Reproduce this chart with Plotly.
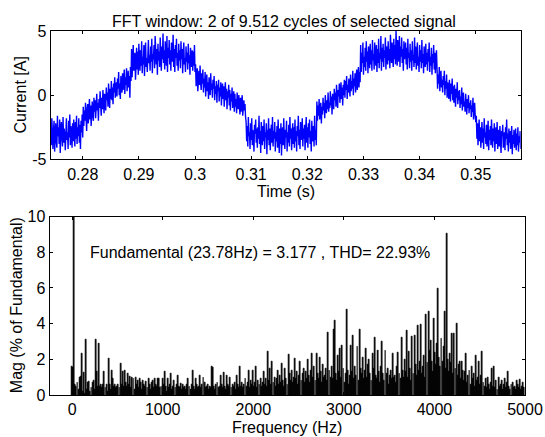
import plotly.graph_objects as go

# ---------------- data ----------------
t_start = 0.2743          # s, first sample of the FFT window
t_step = 0.0001           # s, sample spacing (10 kHz)
current = [
    # 0.2743 - 0.2800  lower plateau
    -2.4, -3.9, -1.8, -3.3, -4.2, -2.7, -2.0, -4.4, -3.0, -2.2,
    -3.6, -4.1, -1.6, -3.2, -2.5, -3.8, -1.9, -4.5, -2.8, -2.1,
    -3.4, -4.0, -1.7, -3.7, -2.6, -3.1, -4.3, -2.3, -1.8, -3.5,
    -2.9, -4.2, -2.0, -3.3, -1.5, -3.9, -2.4, -3.0, -4.1, -2.2,
    -3.6, -1.9, -2.7, -4.0, -2.1, -3.4, -1.6, -3.8, -2.5, -3.2,
    -1.8, -3.7, -2.3, -4.2, -2.0, -2.9, -1.5, -3.3,
    # 0.2801 - 0.2886  rising
    -0.9, -2.4, -1.2, -2.0, -0.6, -1.7, -2.8, -1.0, -0.7, -2.2,
    -1.5, -0.3, -1.9, -0.8, -2.4, -1.2, -0.5, -1.6, -2.0, -0.2,
    -1.3, -0.4, -1.8, -0.9, 0.1, -1.2, -0.6, -2.0, -0.3, -1.0,
    0.3, -0.8, -1.6, -0.2, -1.1, 0.4, -0.5, -1.4, 0.1, -0.7,
    -1.2, 0.6, -0.4, 0.2, -0.9, 0.9, -0.1, -1.0, 0.5, -0.3,
    1.1, -0.4, 0.6, -0.7, 0.9, 0.2, 1.4, -0.2, 0.4, 1.0,
    -0.1, 1.3, 0.5, 1.8, 0.0, 0.9, -0.3, 1.5, 0.7, 0.2,
    1.7, 0.4, 1.2, 2.0, 0.1, 1.4, 0.8, 2.1, 0.3, 1.0,
    1.9, 0.6, 1.5, -0.2, 2.2, 1.1,
    # 0.2887 - 0.3000  upper plateau
    3.6, 1.4, 2.8, 3.9, 1.9, 2.5, 3.3, 1.2, 2.9, 3.7,
    2.0, 3.4, 1.6, 4.0, 2.7, 1.9, 3.5, 2.3, 4.2, 1.7,
    3.0, 2.4, 3.9, 1.5, 3.3, 4.1, 2.2, 2.9, 1.8, 3.6,
    4.3, 2.5, 3.1, 1.9, 3.8, 2.6, 4.4, 1.7, 3.2, 2.8,
    3.9, 2.1, 4.6, 3.0, 2.4, 3.6, 1.6, 4.0, 2.7, 3.4,
    2.2, 4.5, 3.3, 1.9, 3.8, 2.8, 4.8, 2.5, 3.5, 2.0,
    4.2, 3.0, 2.3, 4.6, 1.8, 3.7, 2.9, 4.3, 2.4, 3.5,
    1.9, 4.1, 3.2, 2.6, 4.7, 2.2, 3.6, 1.8, 3.9, 2.9,
    4.4, 2.3, 3.3, 1.9, 4.0, 2.7, 3.5, 2.1, 4.2, 2.8,
    3.6, 1.7, 3.2, 4.1, 2.4, 2.9, 1.8, 3.8, 2.6, 3.3,
    2.0, 4.0, 2.5, 3.1, 1.6, 3.7, 2.8, 2.2, 3.5, 1.9,
    3.4, 2.3, 3.9, 1.8,
    # 0.3001 - 0.3090  falling
    2.4, 0.7, 1.6, 2.1, 0.3, 1.2, 1.9, 0.8, 2.3, 1.0,
    0.4, 1.7, 0.9, 2.0, 0.2, 1.3, 0.6, 1.8, -0.1, 1.1,
    1.6, 0.3, 1.0, -0.3, 1.4, 0.6, 0.0, 1.7, 0.4, 0.9,
    -0.2, 1.2, 0.5, 1.5, -0.4, 0.7, 0.1, 1.1, -0.6, 0.8,
    0.3, 1.2, -0.5, 0.6, -0.1, 1.0, -0.8, 0.4, 0.9, -0.3,
    0.7, -0.9, 0.2, 1.0, -0.4, 0.5, -1.1, 0.3, -0.2, 0.8,
    -0.8, 0.4, -1.2, 0.1, -0.5, 0.6, -1.0, -0.2, 0.3, -1.3,
    0.1, -0.9, -0.3, -1.4, 0.2, -0.7, -1.1, 0.0, -0.5, -1.5,
    -0.2, -1.3, -0.6, 0.0, -1.6, -0.9, -0.4, -1.2, -0.7, -1.7,
    # 0.3091 - 0.3216  lower plateau
    -2.1, -3.6, -2.4, -4.0, -1.7, -3.2, -2.9, -4.2, -2.2, -3.5,
    -1.8, -3.9, -2.7, -3.3, -4.4, -2.3, -3.0, -1.9, -3.7, -2.6,
    -4.1, -2.5, -3.4, -1.6, -3.8, -2.8, -4.5, -2.1, -3.1, -3.9,
    -2.4, -3.6, -1.9, -4.2, -2.9, -3.3, -2.2, -4.6, -2.7, -3.5,
    -1.8, -3.9, -2.6, -4.3, -3.0, -2.3, -3.7, -1.7, -4.0, -2.8,
    -3.4, -2.1, -4.4, -2.9, -3.6, -2.4, -4.1, -1.9, -3.2, -4.5,
    -2.6, -3.8, -2.2, -4.7, -3.1, -2.5, -3.9, -1.8, -3.5, -4.2,
    -2.7, -3.3, -2.0, -4.4, -2.9, -3.7, -2.3, -4.0, -1.7, -3.4,
    -2.6, -4.3, -3.0, -2.2, -3.8, -2.5, -4.1, -1.9, -3.6, -2.8,
    -4.4, -2.4, -3.2, -1.6, -3.9, -2.7, -4.2, -2.1, -3.5, -3.0,
    -1.8, -4.0, -2.6, -3.4, -2.3, -4.3, -2.9, -1.7, -3.7, -2.5,
    -4.1, -2.2, -3.3, -1.9, -3.8, -2.8, -4.4, -2.0, -3.1, -3.6,
    -2.4, -4.0, -1.6, -3.5, -2.7, -3.9,
    # 0.3217 - 0.3294  rising
    -0.5, -2.0, -0.8, -1.6, -0.3, -1.9, -1.1, -0.6, -2.2, -0.9,
    -1.5, -0.2, -1.2, -0.6, -1.8, 0.0, -0.9, -1.4, -0.4, -1.1,
    0.2, -1.3, -0.6, -1.0, 0.3, -0.8, -0.1, -1.5, 0.1, -0.7,
    -1.1, 0.5, -0.4, 0.2, -0.9, 0.8, -0.3, -1.0, 0.4, -0.1,
    0.9, -0.6, 0.3, 1.0, -0.3, 0.6, -0.8, 0.8, 0.0, 1.2,
    -0.2, 1.1, 0.4, 1.5, -0.3, 0.8, 0.2, 1.3, 0.6, -0.1,
    1.6, 0.3, 1.1, 0.5, 1.9, 0.0, 1.3, 0.7, 1.7, 0.2,
    1.5, 2.0, 0.4, 1.2, 2.2, 0.6, 1.8, 1.0,
    # 0.3295 - 0.3430  upper plateau
    3.9, 1.8, 3.3, 2.5, 4.1, 1.6, 3.0, 2.2, 3.7, 1.9,
    4.2, 2.6, 3.4, 1.7, 3.8, 2.9, 2.1, 4.0, 2.4, 3.5,
    1.9, 4.3, 2.7, 3.2, 2.0, 4.1, 3.0, 2.3, 3.9, 1.8,
    3.6, 2.5, 4.4, 2.1, 3.3, 2.8, 4.6, 1.9, 3.7, 2.6,
    4.0, 2.2, 3.5, 2.9, 4.5, 2.0, 3.8, 3.1, 2.4, 4.2,
    2.7, 3.6, 2.1, 4.7, 3.0, 2.5, 4.1, 3.3, 2.2, 4.4,
    2.8, 3.9, 2.4, 5.0, 3.1, 2.3, 4.3, 3.5, 2.6, 4.6,
    2.2, 3.8, 3.0, 4.5, 2.5, 3.6, 1.9, 4.2, 2.8, 3.4,
    4.1, 2.4, 3.7, 2.0, 4.4, 2.9, 3.3, 2.1, 4.0, 2.6,
    3.5, 1.9, 4.2, 2.7, 3.1, 2.2, 4.5, 2.5, 3.8, 2.0,
    3.4, 4.1, 2.3, 3.0, 1.8, 3.9, 2.6, 3.5, 2.1, 4.3,
    2.5, 3.2, 1.7, 3.8, 2.9, 2.2, 4.0, 2.4, 3.3, 1.9,
    3.6, 2.6, 4.1, 1.8, 3.0, 2.3, 3.7, 1.6, 3.2, 2.5,
    3.9, 2.0, 3.3, 1.7, 2.8, 3.5,
    # 0.3431 - 0.3500  falling
    2.1, 0.5, 1.6, 0.9, 2.2, 0.3, 1.4, 1.9, 0.6, 1.2,
    0.2, 1.5, 0.8, 1.9, 0.0, 1.1, 0.5, 1.6, -0.2, 1.0,
    0.6, -0.3, 1.2, 0.3, -0.5, 0.9, 0.1, 1.3, -0.4, 0.7,
    -0.6, 0.8, 0.2, -0.9, 0.5, -0.2, 1.0, -0.7, 0.3, -0.4,
    0.4, -1.0, -0.1, -0.7, 0.6, -1.2, -0.3, 0.2, -0.9, -0.5,
    -1.3, 0.1, -0.8, -1.5, -0.3, -1.0, 0.0, -1.4, -0.6, -1.1,
    -0.4, -1.7, -0.8, -1.3, -0.2, -1.9, -1.0, -0.6, -1.6, -2.1,
    # 0.3501 - 0.3580  lower plateau
    -1.6, -3.4, -2.2, -3.9, -2.8, -1.9, -3.6, -2.5, -4.1, -3.0,
    -2.1, -3.7, -2.6, -4.2, -1.8, -3.3, -2.9, -3.8, -2.3, -4.0,
    -3.1, -2.0, -4.3, -2.7, -3.5, -2.4, -3.9, -1.9, -3.2, -4.1,
    -2.6, -3.6, -2.2, -4.4, -3.0, -2.5, -3.8, -2.1, -4.2, -3.3,
    -2.7, -4.0, -2.4, -3.5, -4.5, -2.8, -3.2, -2.3, -4.1, -3.6,
    -2.9, -4.3, -2.5, -3.4, -1.9, -3.9, -3.0, -4.4, -2.6, -3.7,
    -2.8, -4.2, -3.3, -2.4, -4.6, -3.1, -3.8, -2.7, -4.1, -3.5,
    -2.6, -4.3, -3.0, -3.9, -2.5, -4.4, -3.2, -3.7, -2.8, -4.2,
]

f_step = 11.89            # Hz, FFT bin spacing (fundamental / 2 cycles)
mag = [
    1.6, 1.55, 100, 0.6, 0.5, 0.7, 0.3, 1.0, 1.05, 2.3,
    0.2, 1.25, 0.1, 3.1, 0.3, 0.7, 0.75, 0.2, 0.4, 0.7,
    0.8, 0.3, 3.1, 1.3, 0.5, 2.9, 0.5, 0.6, 0.4, 0.6,
    1.3, 0.4, 0.6, 0.2, 2.05, 0.6, 0.3, 1.4, 0.9, 0.5,
    0.6, 0.4, 0.5, 0.6, 0.4, 1.75, 0.6, 1.3, 0.5, 1.4,
    0.7, 0.5, 1.2, 0.6, 1.05, 0.4, 1.0, 0.9, 0.3, 1.0,
    0.6, 0.8, 0.4, 0.9, 0.7, 0.3, 0.8, 0.6, 0.5, 0.75,
    0.4, 0.9, 0.6, 0.3, 0.7, 0.8, 0.4, 0.9, 0.6, 0.5,
    0.9, 0.9, 0.4, 0.5, 0.9, 0.6, 1.3, 0.5, 0.2, 0.9,
    0.4, 0.6, 1.2, 0.3, 0.5, 0.8, 0.4, 0.6, 1.1, 0.5,
    0.4, 0.65, 0.3, 0.6, 0.4, 0.5, 0.3, 0.6, 0.9, 0.5,
    0.3, 0.6, 1.4, 0.5, 0.3, 0.95, 0.6, 0.4, 0.5, 1.1,
    0.4, 0.6, 1.0, 0.7, 0.4, 0.5, 0.6, 0.3, 0.5, 0.4,
    1.57, 1.55, 0.5, 0.3, 0.6, 0.7, 0.4, 0.5, 1.1, 0.6,
    0.4, 1.25, 0.5, 0.3, 1.1, 0.6, 0.5, 1.0, 0.4, 0.6,
    0.5, 0.7, 0.3, 1.1, 0.6, 0.4, 1.57, 0.5, 0.7, 0.4,
    0.6, 0.9, 0.5, 0.7, 1.4, 0.4, 0.8, 0.6, 1.4, 0.5,
    0.7, 1.6, 0.4, 0.8, 0.6, 0.9, 0.5, 0.7, 1.3, 0.6,
    0.9, 0.5, 2.45, 0.8, 1.5, 0.6, 1.87, 0.7, 1.0, 0.5,
    0.9, 1.4, 0.6, 1.1, 0.7, 1.78, 0.8, 0.5, 1.5, 0.9,
    0.6, 2.25, 1.2, 0.8, 1.4, 0.7, 1.0, 2.05, 0.9, 1.3,
    0.6, 1.1, 1.9, 0.8, 1.2, 1.5, 0.7, 1.3, 0.9, 2.0,
    1.1, 0.7, 1.4, 2.3, 1.0, 1.6, 0.8, 2.35, 1.2, 0.9,
    2.1, 1.3, 0.7, 1.7, 1.0, 1.1, 1.5, 0.8, 3.5, 1.4,
    1.0, 1.6, 0.9, 3.65, 4.2, 1.2, 0.8, 2.2, 1.3, 2.6,
    1.0, 2.8, 1.5, 0.7, 1.2, 4.8, 1.4, 0.6, 1.1, 2.8,
    1.3, 3.35, 0.9, 1.6, 1.1, 2.7, 0.8, 3.65, 1.5, 1.2,
    2.1, 0.9, 1.4, 2.6, 1.0, 1.7, 2.0, 1.2, 0.8, 2.3,
    1.5, 3.2, 1.1, 0.9, 2.5, 1.3, 0.7, 1.6, 3.0, 1.2,
    0.8, 2.5, 1.2, 1.5, 0.6, 1.1, 1.4, 0.9, 2.3, 1.0,
    1.1, 0.7, 1.6, 2.4, 1.2, 0.9, 3.2, 1.4, 1.0, 2.0,
    1.3, 3.64, 1.0, 2.43, 1.5, 0.8, 3.27, 1.2, 3.36, 1.7,
    1.1, 3.9, 1.4, 1.9, 3.96, 1.2, 1.6, 2.2, 1.0, 4.5,
    1.8, 4.67, 2.5, 3.08, 1.9, 1.3, 4.3, 2.4, 1.7, 2.9,
    5.98, 2.1, 1.6, 3.18, 1.9, 2.7, 4.67, 1.5, 9.06, 2.0,
    1.3, 2.33, 1.8, 3.46, 1.2, 3.46, 1.5, 4.0, 1.1, 1.7,
    1.87, 0.9, 1.9, 1.4, 0.8, 1.3, 2.33, 0.7, 1.1, 1.4,
    0.6, 1.6, 0.9, 1.2, 0.5, 2.24, 0.8, 1.0, 1.9, 0.6,
    1.1, 2.43, 0.7, 0.5, 0.9, 0.4, 1.0, 0.6, 0.3, 0.7,
    1.5, 0.5, 1.6, 0.4, 0.8, 0.3, 1.0, 0.5, 0.6, 0.8,
    0.3, 0.6, 0.9, 0.4, 0.7, 1.3, 0.5, 0.3, 0.6, 0.7,
    0.4, 0.5, 0.3, 0.8, 0.6, 0.4, 0.85, 0.3, 0.5, 0.7,
    0.4,
]

time_ticks = [0.28, 0.29, 0.30, 0.31, 0.32, 0.33, 0.34, 0.35]
time_tick_text = ["0.28", "0.29", "0.3", "0.31", "0.32", "0.33", "0.34", "0.35"]
cur_ticks = [-5, 0, 5]
cur_tick_text = ["-5", "0", "5"]
freq_ticks = [0, 1000, 2000, 3000, 4000, 5000]
mag_ticks = [0, 2, 4, 6, 8, 10]

title_text = "FFT window: 2 of 9.512 cycles of selected signal"
info_text = "Fundamental (23.78Hz) = 3.177 , THD= 22.93%"

# ---------------- layout helpers ----------------
W, H = 545, 437
def px(x):
    return x / W
def py(y):
    return 1 - y / H

FONT = "Liberation Sans, Arial, Helvetica, sans-serif"
FS = 16

fig = go.Figure()
fig.add_trace(go.Scatter(x0=t_start, dx=t_step, y=current, mode="lines",
                         line=dict(color="#0000FF", width=1.4),
                         xaxis="x", yaxis="y", showlegend=False))
fig.add_trace(go.Bar(x0=0, dx=f_step, y=mag, width=f_step * 0.85,
                     marker=dict(color="black", line=dict(color="black", width=0.7)),
                     xaxis="x2", yaxis="y2", showlegend=False))

axis_common = dict(showline=True, linecolor="black", linewidth=1, mirror="ticks",
                   ticks="inside", ticklen=3, tickcolor="black", showgrid=False,
                   zeroline=False, tickfont=dict(family=FONT, size=FS, color="black"),
                   automargin=False)

fig.update_layout(
    width=W, height=H,
    margin=dict(l=0, r=0, t=0, b=0),
    paper_bgcolor="white", plot_bgcolor="white",
    font=dict(family=FONT, size=FS, color="black"),
    bargap=0,
    xaxis=dict(domain=[px(50.7), px(520.7)], range=[0.2743, 0.3580], anchor="y",
               tickvals=time_ticks, ticktext=time_tick_text, **axis_common),
    yaxis=dict(domain=[py(159.3), py(31)], range=[-5, 5], anchor="x",
               tickvals=cur_ticks, ticktext=cur_tick_text, **axis_common),
    xaxis2=dict(domain=[px(49.5), px(525)], range=[-250, 5000], anchor="y2",
                tickvals=freq_ticks, **axis_common),
    yaxis2=dict(domain=[py(395), py(216.5)], range=[0, 10], anchor="x2",
                tickvals=mag_ticks, **axis_common),
    annotations=[
        dict(text=title_text, xref="paper", yref="paper", x=px(283.7), y=py(21.3),
             xanchor="center", yanchor="middle", showarrow=False),
        dict(text="Time (s)", xref="paper", yref="paper", x=px(285.7), y=py(191),
             xanchor="center", yanchor="middle", showarrow=False),
        dict(text="Current [A]", xref="paper", yref="paper", x=px(20), y=py(95.5),
             xanchor="center", yanchor="middle", textangle=-90, showarrow=False),
        dict(text="Frequency (Hz)", xref="paper", yref="paper", x=px(287), y=py(427.5),
             xanchor="center", yanchor="middle", showarrow=False),
        dict(text="Mag (% of Fundamental)", xref="paper", yref="paper", x=px(16.5), y=py(305.7),
             xanchor="center", yanchor="middle", textangle=-90, showarrow=False),
        dict(text=info_text, xref="paper", yref="paper", x=px(87.5), y=py(252.3),
             xanchor="left", yanchor="middle", showarrow=False),
    ],
)

fig.write_html("out.html", config={"displayModeBar": False},
               post_script="document.body.style.margin='0';")
